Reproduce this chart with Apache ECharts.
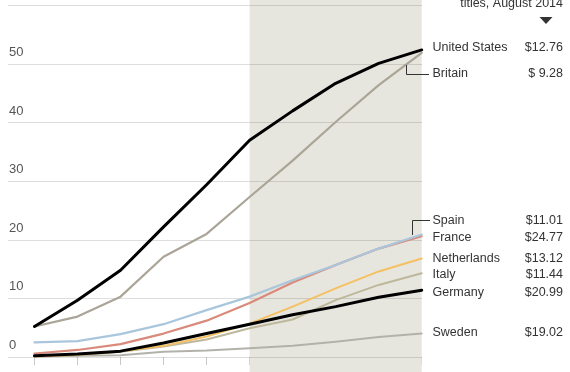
<!DOCTYPE html>
<html>
<head>
<meta charset="utf-8">
<script src="https://cdn.jsdelivr.net/npm/echarts@6/dist/echarts.min.js"></script>
<style>
html,body{margin:0;padding:0;background:#fff;}
#chart{width:570px;height:372px;}
</style>
</head>
<body>
<div id="chart"></div>
<script>
// ---- data ----
var categories = ['2005','2006','2007','2008','2009','2010','2011','2012','2013','2014'];
var unitedStates = [5.2, 9.7, 14.8, 22.2, 29.4, 37.0, 42.0, 46.7, 50.1, 52.4];
var britain      = [5.2, 6.9, 10.3, 17.1, 21.0, 27.3, 33.5, 40.1, 46.4, 51.9];
var france       = [2.5, 2.7, 3.9, 5.6, 8.0, 10.3, 13.1, 15.7, 18.5, 20.9];
var spain        = [0.6, 1.2, 2.2, 4.0, 6.2, 9.2, 12.7, 15.7, 18.5, 20.6];
var netherlands  = [0.1, 0.4, 1.0, 1.9, 3.5, 5.7, 8.6, 11.7, 14.6, 16.8];
var italy        = [0.1, 0.3, 0.9, 1.8, 3.0, 4.9, 6.4, 9.7, 12.3, 14.3];
var germany      = [0.2, 0.5, 1.0, 2.4, 4.0, 5.6, 7.2, 8.6, 10.2, 11.4];
var sweden       = [0.1, 0.2, 0.3, 0.9, 1.1, 1.5, 1.9, 2.6, 3.4, 4.0];
var yTicks = [0, 10, 20, 30, 40, 50, 60];
var shadeFrom = '2010', shadeTo = '2014';
var countryNames = ['United States','Britain','Spain','France','Netherlands','Italy','Germany','Sweden'];
var prices = ['$12.76','$ 9.28','$11.01','$24.77','$13.12','$11.44','$20.99','$19.02'];
var headerText = 'titles, August 2014';

// ---- layout / style ----
var labelY = [47.7, 74, 221, 238, 258.3, 275, 292.7, 332.7];
var FONT = '"Liberation Sans", Arial, sans-serif';
var pxPerUnit = 5.86, zeroY = 357, H = 372;

var chart = echarts.init(document.getElementById('chart'), null, {renderer:'canvas'});

function lineSeries(name, data, color, width){
  return {
    name: name, type: 'line', xAxisIndex: 1, yAxisIndex: 1,
    data: data, symbol: 'none', smooth: false, z: 5,
    lineStyle: {color: color, width: width, cap: 'round', join: 'round'},
    emphasis: {disabled: true}
  };
}

var graphics = [];
for (var i = 0; i < countryNames.length; i++) {
  graphics.push({type:'text', z:100, x:432.5, y:labelY[i], style:{text:countryNames[i], fill:'#333', font:'12.5px ' + FONT, textVerticalAlign:'middle', verticalAlign:'middle'}});
  graphics.push({type:'text', z:100, x:563, y:labelY[i], style:{text:prices[i], fill:'#333', font:'12.5px ' + FONT, textAlign:'right', align:'right', textVerticalAlign:'middle', verticalAlign:'middle'}});
}
graphics.push({type:'text', z:100, x:563, y:4, style:{text:headerText, fill:'#333', font:'12.5px ' + FONT, textAlign:'right', align:'right', textVerticalAlign:'middle', verticalAlign:'middle'}});
graphics.push({type:'polygon', z:100, shape:{points:[[539.5,17],[552.5,17],[546,24]]}, style:{fill:'#333'}});
// leader lines
graphics.push({type:'polyline', z:100, shape:{points:[[406.5,65],[406.5,74.5],[429,74.5]]}, style:{stroke:'#333', lineWidth:1, fill:null}});
graphics.push({type:'polyline', z:100, shape:{points:[[412.5,235],[412.5,220.5],[430,220.5]]}, style:{stroke:'#333', lineWidth:1, fill:null}});

var option = {
  animation: false,
  backgroundColor: '#fff',
  grid: [
    {left: 8, right: 148, top: zeroY - 60*pxPerUnit, bottom: H - zeroY},
    {left: 34.5, right: 148.3, top: 0, bottom: 0}
  ],
  xAxis: [
    {gridIndex: 0, type: 'category', data: categories, show: false, boundaryGap: false},
    {gridIndex: 1, type: 'category', data: categories, boundaryGap: false,
     axisLine: {show: false, onZero: true},
     axisTick: {show: true, interval: 0, length: 8, lineStyle: {color: '#c9c9c9', width: 1}},
     axisLabel: {show: false}, splitLine: {show: false}}
  ],
  yAxis: [
    {gridIndex: 0, type: 'value', min: 0, max: 60, interval: 10, z: 3,
     axisLine: {show: false}, axisTick: {show: false},
     splitLine: {show: true, lineStyle: {color: 'rgba(0,0,0,0.13)', width: 1}},
     axisLabel: {show: true, inside: true, margin: 1, align: 'left', verticalAlign: 'bottom',
       padding: [0,0,5,0], color: '#555', fontSize: 13, fontFamily: FONT,
       formatter: function(v){ return yTicks.indexOf(v) >= 0 && v < 60 ? String(v) : ''; }}},
    {gridIndex: 1, type: 'value', min: -(H - zeroY)/pxPerUnit, max: zeroY/pxPerUnit, show: false,
     splitLine: {show: false}}
  ],
  series: [
    {type: 'line', xAxisIndex: 1, yAxisIndex: 1, data: [], z: 1, silent: true,
     markArea: {silent: true, itemStyle: {color: '#e7e6de'}, data: [[{xAxis: shadeFrom}, {xAxis: shadeTo}]]}},
    lineSeries('Sweden', sweden, '#b3b2aa', 2),
    lineSeries('Italy', italy, '#bdb89c', 2),
    lineSeries('Netherlands', netherlands, '#f4c062', 2),
    lineSeries('Spain', spain, '#d98a7a', 2.2),
    lineSeries('France', france, '#a9c6dc', 2.2),
    lineSeries('Germany', germany, '#000000', 3),
    lineSeries('Britain', britain, '#aaa597', 2.2),
    lineSeries('United States', unitedStates, '#000000', 3)
  ],
  graphic: graphics
};
chart.setOption(option);
</script>
</body>
</html>
